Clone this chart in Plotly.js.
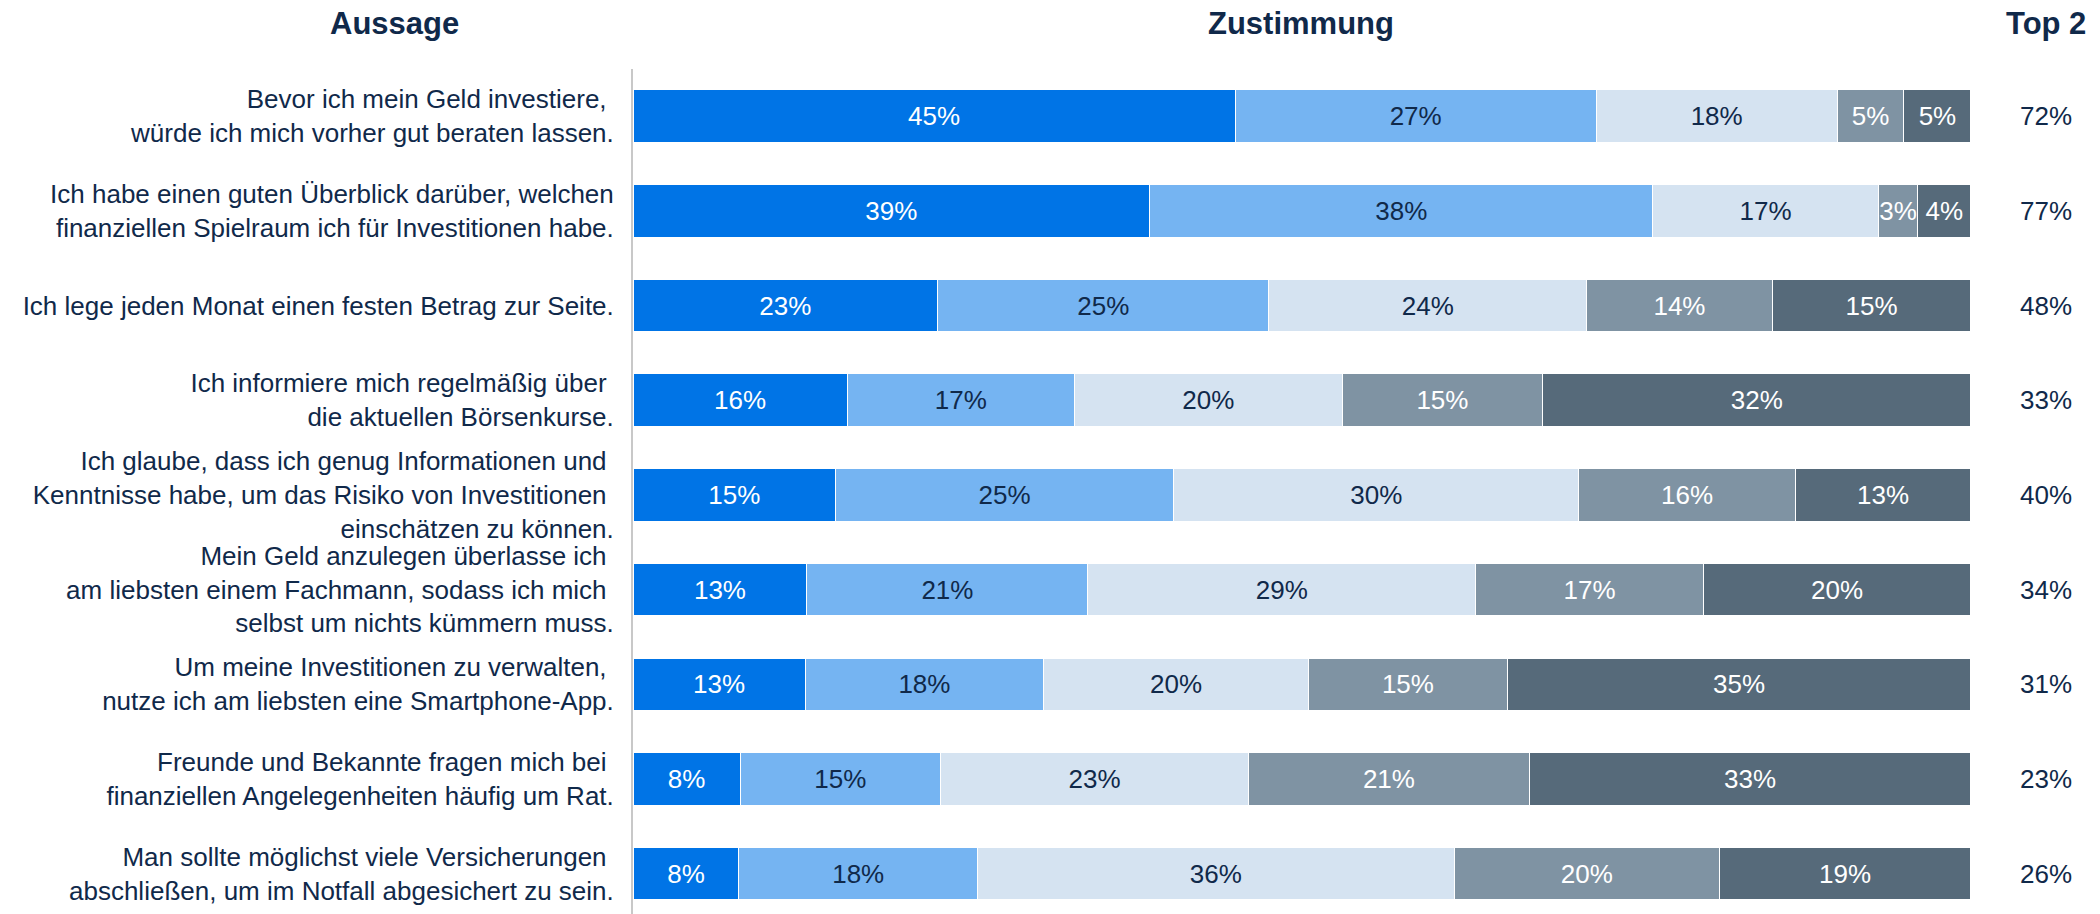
<!DOCTYPE html>
<html>
<head>
<meta charset="utf-8">
<script src="https://cdn.plot.ly/plotly-3.0.1.min.js"></script>
<style>
  html, body { margin: 0; padding: 0; background: #ffffff; }
  #chart { width: 2100px; height: 914px; }
</style>
</head>
<body>
<div id="chart"></div>
<script>
// ---- Data ----
const NB = '\u00a0';
const statements = [
  'Bevor ich mein Geld investiere,' + NB + '<br>würde ich mich vorher gut beraten lassen.',
  'Ich habe einen guten Überblick darüber, welchen<br>finanziellen Spielraum ich für Investitionen habe.',
  'Ich lege jeden Monat einen festen Betrag zur Seite.',
  'Ich informiere mich regelmäßig über' + NB + '<br>die aktuellen Börsenkurse.',
  'Ich glaube, dass ich genug Informationen und' + NB + '<br>Kenntnisse habe, um das Risiko von Investitionen' + NB + '<br>einschätzen zu können.',
  'Mein Geld anzulegen überlasse ich' + NB + '<br>am liebsten einem Fachmann, sodass ich mich' + NB + '<br>selbst um nichts kümmern muss.',
  'Um meine Investitionen zu verwalten,' + NB + '<br>nutze ich am liebsten eine Smartphone-App.',
  'Freunde und Bekannte fragen mich bei' + NB + '<br>finanziellen Angelegenheiten häufig um Rat.',
  'Man sollte möglichst viele Versicherungen' + NB + '<br>abschließen, um im Notfall abgesichert zu sein.'
];

const level1 = [45, 39, 23, 16, 15, 13, 13, 8, 8];
const level2 = [27, 38, 25, 17, 25, 21, 18, 15, 18];
const level3 = [18, 17, 24, 20, 30, 29, 20, 23, 36];
const level4 = [5, 3, 14, 15, 16, 17, 15, 21, 20];
const level5 = [5, 4, 15, 32, 13, 20, 35, 33, 19];

const top2 = [72, 77, 48, 33, 40, 34, 31, 23, 26];

const headers = ['Aussage', 'Zustimmung', 'Top 2'];

// ---- Styles ----
const NAVY = '#10294A';
const FONT = 'Arial, "Liberation Sans", sans-serif';
const seriesList = [
  { vals: level1, color: '#0074E6', text: '#FFFFFF' },
  { vals: level2, color: '#75B4F2', text: NAVY },
  { vals: level3, color: '#D5E3F1', text: NAVY },
  { vals: level4, color: '#7F93A3', text: '#FFFFFF' },
  { vals: level5, color: '#566A7A', text: '#FFFFFF' }
];

const traces = seriesList.map((s, i) => ({
  type: 'bar',
  orientation: 'h',
  name: 'Stufe ' + (i + 1),
  y: statements,
  x: s.vals,
  text: s.vals.map(v => v + '%'),
  texttemplate: '%{text}',
  textposition: 'inside',
  insidetextanchor: 'middle',
  constraintext: 'none',
  textangle: 0,
  textfont: { family: FONT, size: 26, color: s.text },
  marker: { color: s.color, line: { color: '#FFFFFF', width: 1 } },
  hoverinfo: 'skip',
  cliponaxis: false
}));

const annotations = [];
// Header row
const headerX = [-0.1786, 0.4993, 1.056];
headers.forEach((h, i) => {
  annotations.push({
    text: '<b>' + h + '</b>', xref: 'paper', yref: 'paper',
    x: headerX[i], y: 1.0533, xanchor: 'center', yanchor: 'middle',
    showarrow: false, font: { family: FONT, size: 31, color: NAVY }
  });
});
// Top 2 column
top2.forEach((v, i) => {
  annotations.push({
    text: v + '%', xref: 'paper', yref: 'y',
    x: 1.056, y: statements[i], xanchor: 'center', yanchor: 'middle',
    showarrow: false, font: { family: FONT, size: 26, color: NAVY }
  });
});

const layout = {
  width: 2100,
  height: 914,
  margin: { l: 633, r: 129, t: 69, b: 0, pad: 0 },
  paper_bgcolor: '#FFFFFF',
  plot_bgcolor: '#FFFFFF',
  barmode: 'stack',
  barnorm: 'percent',
  bargap: 0.446,
  showlegend: false,
  font: { family: FONT, color: NAVY },
  xaxis: {
    visible: false, range: [0, 100.01], fixedrange: true
  },
  yaxis: {
    type: 'category',
    range: [8.426, -0.498],
    showline: true, linecolor: '#C8C8C8', linewidth: 2,
    showgrid: false, zeroline: false,
    ticks: '', ticklabelstandoff: 12,
    tickfont: { family: FONT, size: 26, color: NAVY },
    automargin: false
  },
  annotations: annotations
};

Plotly.newPlot('chart', traces, layout, { displayModeBar: false, staticPlot: true });
</script>
</body>
</html>
